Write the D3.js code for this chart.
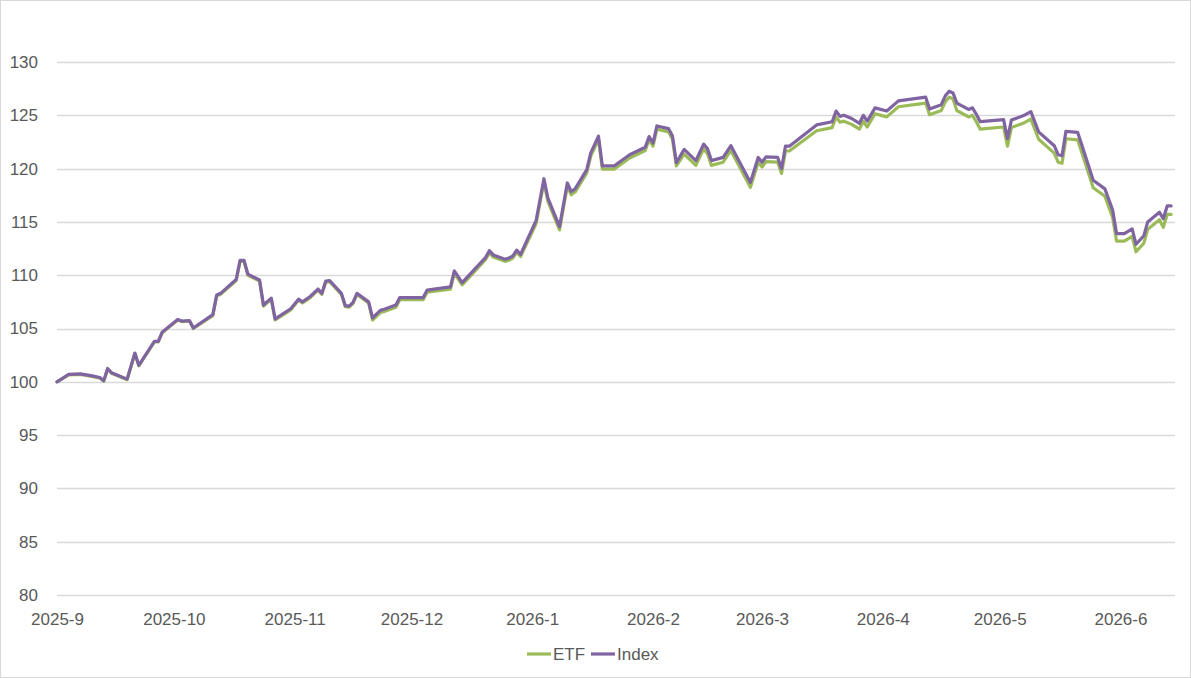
<!DOCTYPE html>
<html>
<head>
<meta charset="utf-8">
<script src="https://cdn.jsdelivr.net/npm/d3@7"></script>
<style>
  body { margin: 0; background: #fff; }
  text { font-family: "Liberation Sans", Arial, sans-serif; fill: #595959; }
</style>
</head>
<body>
<div id="chart"></div>
<script>
// chart size
var w = 1191,
    h = 678;

// data
var dates = ["2025-09-01","2025-09-04","2025-09-07","2025-09-10","2025-09-12","2025-09-13","2025-09-14","2025-09-15","2025-09-19","2025-09-21",
  "2025-09-22","2025-09-26","2025-09-27","2025-09-28","2025-09-29","2025-10-02","2025-10-03","2025-10-05","2025-10-06","2025-10-11",
  "2025-10-12","2025-10-13","2025-10-17","2025-10-18","2025-10-19","2025-10-20","2025-10-23","2025-10-24","2025-10-26","2025-10-27",
  "2025-10-31","2025-11-02","2025-11-03","2025-11-05","2025-11-07","2025-11-08","2025-11-09","2025-11-10","2025-11-13","2025-11-14",
  "2025-11-15","2025-11-16","2025-11-17","2025-11-20","2025-11-21","2025-11-23","2025-11-24","2025-11-27","2025-11-28","2025-12-04",
  "2025-12-05","2025-12-11","2025-12-12","2025-12-14","2025-12-20","2025-12-21","2025-12-22","2025-12-25","2025-12-26","2025-12-27",
  "2025-12-28","2025-12-29","2026-01-02","2026-01-04","2026-01-05","2026-01-08","2026-01-10","2026-01-11","2026-01-12","2026-01-15",
  "2026-01-16","2026-01-18","2026-01-19","2026-01-22","2026-01-26","2026-01-30","2026-01-31","2026-02-01","2026-02-02","2026-02-05",
  "2026-02-06","2026-02-07","2026-02-09","2026-02-12","2026-02-14","2026-02-15","2026-02-16","2026-02-19","2026-02-21","2026-02-26",
  "2026-02-28","2026-03-01","2026-03-02","2026-03-05","2026-03-06","2026-03-07","2026-03-08","2026-03-15","2026-03-19","2026-03-20",
  "2026-03-21","2026-03-22","2026-03-24","2026-03-26","2026-03-27","2026-03-28","2026-03-30","2026-04-02","2026-04-05","2026-04-12",
  "2026-04-13","2026-04-16","2026-04-17","2026-04-18","2026-04-19","2026-04-20","2026-04-23","2026-04-24","2026-04-25","2026-04-26",
  "2026-05-02","2026-05-03","2026-05-04","2026-05-07","2026-05-09","2026-05-11","2026-05-15","2026-05-16","2026-05-17","2026-05-18",
  "2026-05-21","2026-05-22","2026-05-25","2026-05-28","2026-05-30","2026-05-31","2026-06-02","2026-06-04","2026-06-05","2026-06-07",
  "2026-06-08","2026-06-11","2026-06-12","2026-06-13","2026-06-14"];

var indexValues = [100.0,100.7,100.75,100.55,100.4,100.1,101.25,100.85,100.25,102.7,
  101.55,103.8,103.8,104.65,104.95,105.85,105.7,105.75,105.05,106.3,
  108.15,108.3,109.6,111.4,111.4,110.1,109.55,107.2,107.85,105.9,
  106.85,107.75,107.5,108.0,108.7,108.3,109.45,109.5,108.3,107.15,
  107.1,107.45,108.3,107.5,106.0,106.7,106.8,107.2,107.9,107.9,
  108.6,108.9,110.4,109.3,111.65,112.3,111.9,111.5,111.6,111.8,
  112.35,111.95,115.15,119.05,117.25,114.55,118.65,117.85,118.1,119.9,
  121.45,123.05,120.25,120.25,121.3,122.0,123.0,122.4,124.0,123.75,
  123.05,120.55,121.8,120.75,122.3,121.85,120.75,121.05,122.15,118.7,
  121.05,120.6,121.1,121.05,120.0,122.1,122.1,124.1,124.4,125.4,
  124.9,125.0,124.7,124.25,125.0,124.45,125.7,125.4,126.35,126.7,
  125.6,126.0,126.8,127.25,127.1,126.15,125.55,125.7,125.1,124.4,
  124.6,122.8,124.55,124.95,125.35,123.45,122.15,121.3,121.2,123.5,
  123.4,122.3,118.9,118.1,116.1,113.9,113.9,114.35,112.9,113.7,
  115.0,115.9,115.3,116.5,116.5];

var etfValues = [100.0,100.65,100.7,100.5,100.35,100.05,101.2,100.8,100.2,102.65,
  101.5,103.75,103.75,104.6,104.9,105.8,105.65,105.7,105.0,106.2,
  108.05,108.2,109.5,111.3,111.3,110.0,109.45,107.1,107.75,105.8,
  106.75,107.65,107.4,107.9,108.6,108.2,109.35,109.4,108.2,107.05,
  107.0,107.35,108.2,107.4,105.8,106.5,106.6,107.0,107.7,107.7,
  108.4,108.7,110.2,109.1,111.45,112.1,111.7,111.3,111.4,111.6,
  112.15,111.75,114.85,118.75,116.95,114.25,118.35,117.55,117.8,119.6,
  121.15,122.75,119.95,119.95,121.0,121.7,122.7,122.1,123.7,123.45,
  122.75,120.25,121.35,120.3,121.85,121.4,120.3,120.6,121.7,118.25,
  120.6,120.15,120.65,120.6,119.55,121.65,121.65,123.55,123.85,124.85,
  124.35,124.45,124.15,123.7,124.45,123.9,125.15,124.85,125.8,126.15,
  125.05,125.45,126.25,126.7,126.55,125.45,124.85,125.0,124.4,123.7,
  123.9,122.1,123.85,124.25,124.65,122.75,121.45,120.6,120.5,122.8,
  122.7,121.6,118.2,117.4,115.4,113.2,113.2,113.65,112.2,113.0,
  114.3,115.2,114.5,115.7,115.7];

var seriesNames = ["ETF", "Index"];
var seriesColors = ["#9bbb59", "#8064a2"];
var yTicks = [80, 85, 90, 95, 100, 105, 110, 115, 120, 125, 130];
var xStart = "2025-09-01", xEnd = "2026-06-15";

var parse = d3.timeParse("%Y-%m-%d");

var svg = d3.select("#chart")
    .append("svg")
    .attr("width", w)
    .attr("height", h);

svg.append("rect")
    .attr("x", 0.5).attr("y", 0.5)
    .attr("width", w - 1).attr("height", h - 1)
    .attr("fill", "#fff")
    .attr("stroke", "#d9d9d9");

var xScale = d3.scaleTime()
    .domain([parse(xStart), parse(xEnd)])
    .range([57, 1175]);
var yScale = d3.scaleLinear()
    .domain([80, 130])
    .range([595, 62]);

// gridlines
svg.selectAll(".grid")
    .data(yTicks)
    .enter()
    .append("line")
    .attr("class", "grid")
    .attr("x1", 57).attr("x2", 1175)
    .attr("y1", function (d) { return Math.round(yScale(d)) + 0.5; })
    .attr("y2", function (d) { return Math.round(yScale(d)) + 0.5; })
    .attr("stroke", "#d9d9d9")
    .attr("stroke-width", 1.3);

// y labels
var yAxis = d3.axisLeft(yScale).tickValues(yTicks).tickSize(0).tickPadding(0);
svg.append("g")
    .attr("transform", "translate(38,0)")
    .call(yAxis)
    .call(function (g) { g.select(".domain").remove(); })
    .selectAll("text")
    .attr("font-family", "Liberation Sans, Arial, sans-serif")
    .attr("font-size", "17px")
    .attr("fill", "#595959");

// x labels
var xAxis = d3.axisBottom(xScale)
    .ticks(d3.timeMonth.every(1))
    .tickFormat(d3.timeFormat("%Y-%-m"))
    .tickSize(0)
    .tickPadding(0);
svg.append("g")
    .attr("transform", "translate(0,613)")
    .call(xAxis)
    .call(function (g) { g.select(".domain").remove(); })
    .selectAll("text")
    .attr("font-family", "Liberation Sans, Arial, sans-serif")
    .attr("font-size", "17px")
    .attr("fill", "#595959");

var line = d3.line()
    .x(function (d) { return xScale(d.date); })
    .y(function (d) { return yScale(d.value); });

var series = [etfValues, indexValues].map(function (vals) {
    return vals.map(function (v, i) { return { date: parse(dates[i]), value: v }; });
});

svg.selectAll(".series")
    .data(series)
    .enter()
    .append("path")
    .attr("class", "series")
    .attr("d", line)
    .attr("fill", "none")
    .attr("stroke", function (d, i) { return seriesColors[i]; })
    .attr("stroke-width", 3.2)
    .attr("stroke-linejoin", "round")
    .attr("stroke-linecap", "round");

// legend
var legendX = [527, 591];
var legend = svg.selectAll(".legend")
    .data(seriesNames)
    .enter()
    .append("g")
    .attr("class", "legend")
    .attr("transform", function (d, i) { return "translate(" + legendX[i] + ",654)"; });
legend.append("line")
    .attr("x1", 0).attr("x2", 24)
    .attr("stroke", function (d, i) { return seriesColors[i]; })
    .attr("stroke-width", 3.2);
legend.append("text")
    .attr("x", 26)
    .attr("y", 6)
    .attr("font-size", "17px")
    .text(function (d) { return d; });
</script>
</body>
</html>
